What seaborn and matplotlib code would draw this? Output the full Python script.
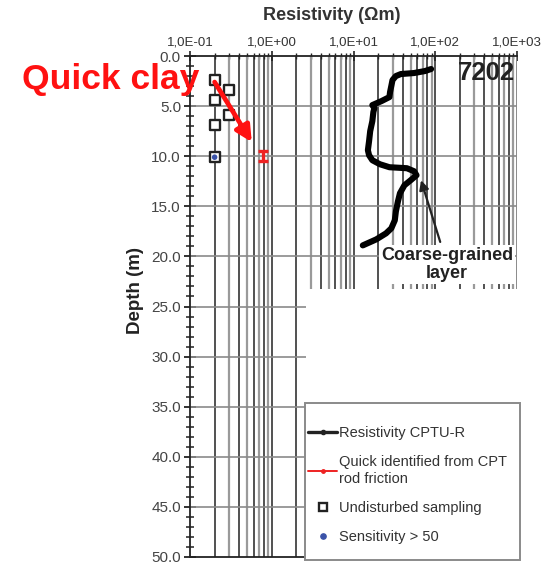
import matplotlib
matplotlib.use("Agg")
import matplotlib.pyplot as plt
import matplotlib.ticker as mticker
from matplotlib.lines import Line2D
from matplotlib.patches import Rectangle
import seaborn as sns
import pandas as pd

# CPTU-R resistivity log, station 7202
res_depth = [1.3, 1.5, 1.7, 1.8, 2.0, 2.4, 3.0, 3.6, 4.1, 4.5, 4.9, 5.2, 5.6,
             6.5, 7.5, 8.5, 9.4, 9.9, 10.4, 10.8, 11.1, 11.2, 11.5, 11.9, 12.4,
             12.9, 13.7, 14.5, 15.5, 16.4, 17.2, 17.7, 18.3, 18.9]
res_value = [89, 75, 55, 38, 33, 30, 29, 28, 27.5, 22, 17, 18, 17.5,
             17, 16, 15.5, 15, 15.5, 17, 21, 27.5, 45, 55, 59, 50,
             42, 37, 35, 33, 32, 29, 25, 19, 13]

# quick clay identified from CPT rod friction
quick_depth = [9.5, 10.5]
quick_value = [0.78, 0.78]

# undisturbed samples
sample_depth = [2.4, 3.4, 4.4, 5.9, 6.9, 10.1]
sample_value = [0.2, 0.3, 0.2, 0.3, 0.2, 0.2]

# samples with sensitivity > 50
sens_depth = [10.1]
sens_value = [0.2]

x_ticks = [0.1, 1, 10, 100, 1000]
x_tick_labels = ["1,0E-01", "1,0E+00", "1,0E+01", "1,0E+02", "1,0E+03"]
y_ticks = [0, 5, 10, 15, 20, 25, 30, 35, 40, 45, 50]
y_tick_labels = ["0.0", "5.0", "10.0", "15.0", "20.0", "25.0", "30.0",
                 "35.0", "40.0", "45.0", "50.0"]

sns.set_style("white")
plt.rcParams["font.family"] = ["Liberation Sans", "DejaVu Sans"]

fig = plt.figure(figsize=(5.47, 5.66), dpi=100)
ax = fig.add_axes([190 / 547, 1 - 557 / 566, 327 / 547, 501 / 566])
ax.set_xscale("log")
ax.set_xlim(0.1, 1000)
ax.set_ylim(50, 0)

# log grid: alternating dark / grey lines at every minor step
for dec in [0.1, 1, 10, 100]:
    for k in range(2, 11):
        xv = dec * k
        if xv >= 1000:
            continue
        col = "#222222" if k % 2 == 0 else "#9a9a9a"
        lw = 1.1 if k % 2 == 0 else 1.6
        bottom = 50 if xv < 2.5 else 23.3
        ax.vlines(xv, 0, bottom, color=col, lw=lw, zorder=1)
ax.vlines(1000, 0, 23.3, color="#8a8a8a", lw=1.4, zorder=1)
for d in range(5, 50, 5):
    right = 1000 if d <= 20 else 2.6
    ax.hlines(d, 0.1, right, color="#8a8a8a", lw=1.2, zorder=1)

df_res = pd.DataFrame({"depth": res_depth, "res": res_value})
sns.lineplot(data=df_res, x="res", y="depth", sort=False, estimator=None,
             color="black", lw=4.4, solid_capstyle="round",
             solid_joinstyle="round", ax=ax, zorder=4)

sns.lineplot(x=quick_value, y=quick_depth, sort=False, estimator=None,
             color="#ee2222", lw=2.4, marker="_", markersize=7,
             markeredgewidth=2.4, markeredgecolor="#ee2222", ax=ax, zorder=4)

sns.scatterplot(x=sample_value, y=sample_depth, marker="s", s=46,
                facecolor="white", edgecolor="#222222", linewidth=1.7,
                ax=ax, zorder=5)
sns.scatterplot(x=sens_value, y=sens_depth, marker="o", s=16,
                color="#3a52a8", edgecolor="none", ax=ax, zorder=6)

# axes styling
for side in ["right", "bottom"]:
    ax.spines[side].set_visible(False)
ax.spines["left"].set_color("#222222")
ax.spines["top"].set_color("#222222")
ax.spines["left"].set_linewidth(1.3)
ax.spines["top"].set_linewidth(1.3)
ax.hlines(50, 0.1, 3, color="#222222", lw=1.3, clip_on=False, zorder=2)

ax.xaxis.set_major_locator(mticker.FixedLocator(x_ticks))
ax.xaxis.set_major_formatter(mticker.FixedFormatter(x_tick_labels))
ax.xaxis.set_minor_locator(mticker.LogLocator(base=10, subs=range(2, 10)))
ax.xaxis.set_minor_formatter(mticker.NullFormatter())
ax.tick_params(axis="x", which="both", top=True, bottom=False,
               labeltop=True, labelbottom=False, direction="inout",
               color="#222222", labelsize=9.5, labelcolor="#333333", pad=2)
ax.tick_params(axis="x", which="major", length=7, width=1.2)
ax.tick_params(axis="x", which="minor", length=5, width=1.0)

ax.yaxis.set_major_locator(mticker.FixedLocator(y_ticks))
ax.yaxis.set_major_formatter(mticker.FixedFormatter(y_tick_labels))
ax.yaxis.set_minor_locator(mticker.MultipleLocator(1))
ax.tick_params(axis="y", which="both", left=True, direction="inout",
               color="#222222", labelsize=11, labelcolor="#444444", pad=2)
ax.tick_params(axis="y", which="major", length=9, width=1.3)
ax.tick_params(axis="y", which="minor", length=6, width=1.1)
ax.set_xlabel("")
ax.set_ylabel("")

fig.text(332 / 547, 1 - 16 / 566, "Resistivity (\u03a9m)", ha="center",
         va="center", fontsize=13, fontweight="bold", color="#333333")
fig.text(135 / 547, 1 - 290 / 566, "Depth (m)", ha="center", va="center",
         rotation=90, fontsize=13.5, fontweight="bold", color="#222222")

ax.text(0.993, 0.99, "7202", transform=ax.transAxes, ha="right", va="top",
        fontsize=18.5, fontweight="bold", color="#222222", zorder=6)

# annotations
fig.text(22 / 547, 1 - 80 / 566, "Quick clay", ha="left", va="center",
         fontsize=25.5, fontweight="bold", color="#ff1111")
ax.annotate("", xy=(0.57, 8.6), xytext=(0.2, 2.6),
            arrowprops=dict(arrowstyle="-|>", color="#ff1111", lw=3.4,
                            mutation_scale=24, shrinkA=0, shrinkB=0),
            zorder=7)
ax.annotate("Coarse-grained\nlayer", xy=(67, 12.4), xytext=(140, 20.8),
            ha="center", va="center", fontsize=13, fontweight="bold",
            color="#222222", linespacing=1.1,
            bbox=dict(boxstyle="square,pad=0.12", fc="white", ec="none"),
            arrowprops=dict(arrowstyle="-|>", color="#222222", lw=1.6,
                            mutation_scale=14, shrinkA=2, shrinkB=0),
            zorder=7)

# legend panel
fig.patches.append(Rectangle((305 / 547, 1 - 560 / 566), 215 / 547,
                             157 / 566, transform=fig.transFigure,
                             facecolor="white", edgecolor="#8a8a8a",
                             lw=1.4, zorder=3))
handles = [
    Line2D([], [], color="#222222", lw=2.4, marker="o", markersize=3),
    Line2D([], [], color="#ee2222", lw=1.4, marker="o", markersize=2.5),
    Line2D([], [], ls="none", marker="s", markersize=6,
           markerfacecolor="white", markeredgecolor="#222222",
           markeredgewidth=1.7),
    Line2D([], [], ls="none", marker="o", markersize=3.8, color="#3a52a8"),
]
labels = ["Resistivity CPTU-R", "Quick identified from CPT\nrod friction",
          "Undisturbed sampling", "Sensitivity > 50"]
leg = fig.legend(handles, labels, loc="upper left",
                 bbox_to_anchor=(308 / 547, 1 - 426 / 566), frameon=False,
                 fontsize=10.5, labelcolor="#333333", handlelength=2.0,
                 handletextpad=0.15, labelspacing=1.05, numpoints=1,
                 borderpad=0, borderaxespad=0)
leg.set_zorder(6)

fig.savefig("out.png", dpi=100)
